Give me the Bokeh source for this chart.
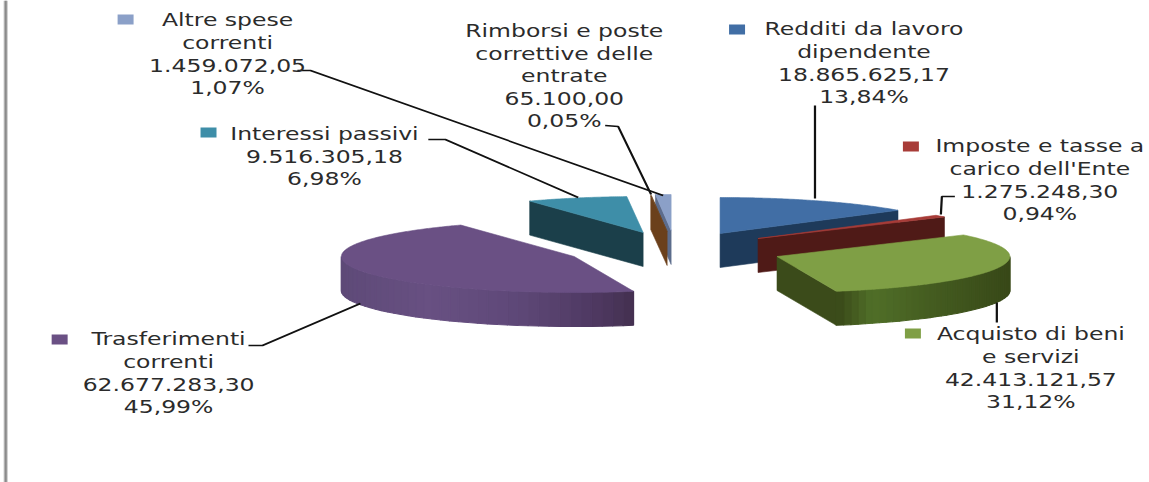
import numpy as np
from bokeh.plotting import figure
from bokeh.models import Range1d
from bokeh.core.properties import value
from bokeh.embed import file_html
from bokeh.resources import INLINE

# ---- data ----
categories = ["Redditi da lavoro dipendente", "Imposte e tasse a carico dell'Ente",
              "Acquisto di beni e servizi", "Trasferimenti correnti", "Interessi passivi",
              "Rimborsi e poste correttive delle entrate", "Altre spese correnti"]
amounts = [18865625.17, 1275248.30, 42413121.57, 62677283.30, 9516305.18, 65100.00, 1459072.05]
amount_labels = ["18.865.625,17", "1.275.248,30", "42.413.121,57", "62.677.283,30",
                 "9.516.305,18", "65.100,00", "1.459.072,05"]
percent_labels = ["13,84%", "0,94%", "31,12%", "45,99%", "6,98%", "0,05%", "1,07%"]

# ---- layout and style ----
W, H = 1149, 482
FIG_W = 821                 # the original picture is stretched sideways, so is this figure
STRETCH = W / FIG_W
RX, RY, DEPTH = 233.0, 36.0, 34.0
apex = [(720, 233), (758, 238), (777, 256), (574, 256), (643, 232), (667, 231), (671, 230)]
top_color = ["#416ea5", "#a83c38", "#7f9f45", "#6a5084", "#3e8ea8", "#6f4722", "#8ba0c8"]
face_color = ["#1e3a5a", "#4f1a17", "#3b4b1a", "#45305a", "#1b3f4a", "#6b401b", "#5c6c8c"]
cut_face = ["end", "end", "end", None, "start", "start", "start"]
# outer wall gradient stops, left to right on the picture: (fraction, colour)
wall = {2: [(0.0, (56, 72, 24)), (0.2, (80, 110, 40)), (0.55, (68, 92, 32)), (1.0, (56, 72, 24))],
        3: [(0.0, (94, 74, 120)), (0.3, (104, 80, 130)), (0.6, (94, 72, 120)),
            (0.88, (78, 56, 96)), (1.0, (68, 48, 80))]}
wall_range = {2: (90.0, None), 3: (None, 270.0)}

label_lines = [
    (["Redditi da lavoro", "dipendente"], 864, 29, 737, 29),
    (["Imposte e tasse a", "carico dell'Ente"], 1040, 146, 911, 146),
    (["Acquisto di beni", "e servizi"], 1031, 334, 913, 333),
    (["Trasferimenti", "correnti"], 168, 339, 59, 339),
    (["Interessi passivi"], 324, 134, 208, 132),
    (["Rimborsi e poste", "correttive delle", "entrate"], 564, 31, None, None),
    (["Altre spese", "correnti"], 227, 20, 125, 19),
]
LINE_H = 22.4
leaders = [
    ([815, 815], [105, 198]),
    ([955, 942, 941], [196, 196, 214]),
    ([997, 997], [302, 322]),
    ([248, 262, 360], [345, 345, 303]),
    ([428, 445, 578], [139, 139, 197]),
    ([605, 618, 651], [125, 126, 194]),
    ([297, 310, 663], [70, 70, 195]),
]

fractions = np.array(amounts) / sum(amounts)
ends = np.cumsum(fractions) * 360.0
starts = ends - fractions * 360.0


def pt(i, deg, dz=0.0):
    t = np.radians(deg)
    return apex[i][0] + RX * np.sin(t), apex[i][1] - RY * np.cos(t) + dz


def hexc(c):
    return "#%02x%02x%02x" % tuple(int(round(v)) for v in c)


# Bokeh measures the host after its transform, so the range is widened by the same stretch
p = figure(width=FIG_W, height=H, x_range=Range1d(0, W * STRETCH), y_range=Range1d(H, 0),
           x_axis_type=None, y_axis_type=None, toolbar_location=None,
           output_backend="svg", min_border=0, outline_line_color=None,
           background_fill_color="white", border_fill_color="white",
           styles={"position": "absolute", "left": "0px", "top": "0px", "overflow": "hidden",
                   "transform": "scaleX(%.5f)" % STRETCH, "transform-origin": "0 0"})
p.grid.visible = False

# page frame at the left
p.line([5, 5], [0, H], line_color="#c8c8c8", line_width=3)
p.line([5, 5], [0, H], line_color="#8a8a8a", line_width=1.5)

order = [3, 4, 6, 5, 0, 1, 2]
for i in order:
    s, e = starts[i], ends[i]
    # radial cut face
    if cut_face[i]:
        ang = e if cut_face[i] == "end" else s
        ex, ey = pt(i, ang)
        ax, ay = apex[i]
        p.patch([ax, ex, ex, ax], [ay, ey, ey + DEPTH, ay + DEPTH],
                fill_color=face_color[i], line_color=face_color[i], line_width=0.5)
    # outer wall, as shaded strips
    if i in wall:
        lo = max(s, wall_range[i][0] or s)
        hi = min(e, wall_range[i][1] or e)
        edges = np.linspace(lo, hi, 41)
        fr = [st[0] for st in wall[i]]
        chans = [[st[1][k] for st in wall[i]] for k in range(3)]
        xmin = min(pt(i, lo)[0], pt(i, hi)[0])
        xmax = max(pt(i, lo)[0], pt(i, hi)[0])
        for a, b in zip(edges[:-1], edges[1:]):
            x0, y0 = pt(i, a)
            x1, y1 = pt(i, b)
            f = (pt(i, (a + b) / 2)[0] - xmin) / (xmax - xmin)
            col = hexc([np.interp(f, fr, ch) for ch in chans])
            p.patch([x0, x1, x1, x0], [y0, y1, y1 + DEPTH, y0 + DEPTH],
                    fill_color=col, line_color=col, line_width=1.0)
    # top face
    tt = np.linspace(s, e, max(3, int(e - s) * 2))
    xs, ys = pt(i, tt)
    p.patch(np.r_[apex[i][0], xs], np.r_[apex[i][1], ys],
            fill_color=top_color[i], line_color=top_color[i], line_width=0.5)

# leader lines
for lx, ly in leaders:
    p.line(lx, ly, line_color="#111111", line_width=1.6)

# legend keys and labels
for i, (names, cx, y0, kx, ky) in enumerate(label_lines):
    lines = names + [amount_labels[i], percent_labels[i]]
    ys = [y0 + LINE_H * k for k in range(len(lines))]
    p.text([cx] * len(lines), ys, text=lines, text_align="center", text_baseline="middle",
           text_font=value("DejaVu Sans"), text_font_size="16.8px", text_color="#2b2b2b")
    if kx is not None:
        p.rect([kx], [ky], width=16, height=10, fill_color=top_color[i], line_color=None)

open("out.html", "w").write(file_html(p, INLINE))
